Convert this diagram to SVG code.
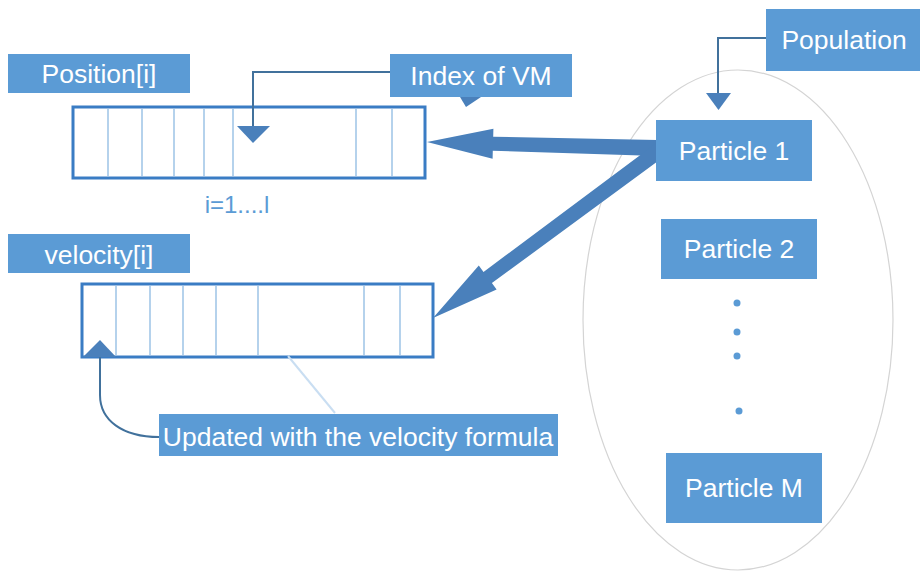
<svg xmlns="http://www.w3.org/2000/svg" width="920" height="571" viewBox="0 0 920 571">
<style>
.box{fill:#5b9bd5;}
.lbl{font-family:"Liberation Sans",Arial,sans-serif;font-size:26.5px;fill:#ffffff;text-anchor:middle;}
.arr{fill:none;stroke:#3a7cc4;stroke-width:3;}
.div{stroke:#9dc3e6;stroke-width:1.5;}
.conn{fill:none;stroke:#41719c;stroke-width:2;}
.head{fill:#4a80bb;}
.big{fill:#4a80bb;}
</style>
<rect width="920" height="571" fill="#ffffff"/>
<ellipse cx="738" cy="320" rx="155" ry="250" fill="none" stroke="#d4d4d4" stroke-width="1.2"/>

<g id="position-array">
<rect class="arr" x="73" y="107" width="352" height="71" fill="#ffffff"/>
<line class="div" x1="108" y1="109" x2="108" y2="176"/>
<line class="div" x1="142" y1="109" x2="142" y2="176"/>
<line class="div" x1="174" y1="109" x2="174" y2="176"/>
<line class="div" x1="204" y1="109" x2="204" y2="176"/>
<line class="div" x1="233" y1="109" x2="233" y2="176"/>
<line class="div" x1="356" y1="109" x2="356" y2="176"/>
<line class="div" x1="392" y1="109" x2="392" y2="176"/>
</g>
<g id="velocity-array">
<rect class="arr" x="82" y="284" width="351" height="73" fill="#ffffff"/>
<line class="div" x1="116" y1="286" x2="116" y2="355"/>
<line class="div" x1="150" y1="286" x2="150" y2="355"/>
<line class="div" x1="183" y1="286" x2="183" y2="355"/>
<line class="div" x1="216" y1="286" x2="216" y2="355"/>
<line class="div" x1="258" y1="286" x2="258" y2="355"/>
<line class="div" x1="364" y1="286" x2="364" y2="355"/>
<line class="div" x1="400" y1="286" x2="400" y2="355"/>
</g>

<g id="connectors">
<polyline class="conn" points="390,72 253,72 253,127"/>
<polygon class="head" points="237,126 270,126 253,143"/>
<polyline class="conn" points="766,38 718,38 718,94"/>
<polygon class="head" points="706,93 731,93 718.5,110"/>
<path class="conn" d="M159,437 C122,437 100,420 100,395 L100,356"/>
<polygon class="head" points="83,357 116,357 100,340"/>
<line x1="288" y1="356" x2="335" y2="413" stroke="#c9def2" stroke-width="2"/>
<polygon class="head" points="460,97 481,97 466,107"/>
<polygon class="big" points="427,142 493.4,128.7 493.2,136.7 657.2,140 656.8,156 492.8,150.7 492.6,158.7"/>
<polygon class="big" points="433,318 478.8,265.4 483.5,271.9 655.8,143.4 664.2,156.6 491.9,283.1 496.6,289.6"/>
</g>

<g id="position-label">
<rect class="box" x="8" y="54" width="182" height="39"/>
<text class="lbl" x="99" y="83">Position[i]</text>
</g>
<g id="index-of-vm">
<rect class="box" x="390" y="54" width="182" height="43"/>
<text class="lbl" x="481" y="85">Index of VM</text>
</g>
<g id="range-label">
<text x="237" y="213" font-family="Liberation Sans, Arial, sans-serif" font-size="24" fill="#5b9bd5" text-anchor="middle">i=1....l</text>
</g>
<g id="population">
<rect class="box" x="766" y="9" width="160" height="62"/>
<text class="lbl" x="844" y="49">Population</text>
</g>
<g id="particle-1">
<rect class="box" x="656" y="120" width="156" height="61"/>
<text class="lbl" x="734" y="160">Particle 1</text>
</g>
<g id="particle-2">
<rect class="box" x="661" y="219" width="156" height="60"/>
<text class="lbl" x="739" y="258">Particle 2</text>
</g>
<g id="ellipsis">
<circle cx="737" cy="303" r="3.5" fill="#5b9bd5"/>
<circle cx="737" cy="332" r="3.5" fill="#5b9bd5"/>
<circle cx="737" cy="356" r="3.5" fill="#5b9bd5"/>
<circle cx="739" cy="411" r="3.5" fill="#5b9bd5"/>
</g>
<g id="particle-m">
<rect class="box" x="666" y="453" width="156" height="70"/>
<text class="lbl" x="744" y="497">Particle M</text>
</g>
<g id="velocity-label">
<rect class="box" x="8" y="234" width="182" height="39"/>
<text class="lbl" x="99" y="264">velocity[i]</text>
</g>
<g id="updated-label">
<rect class="box" x="159" y="414" width="399" height="42"/>
<text class="lbl" x="358" y="446" font-size="26.5">Updated with the velocity formula</text>
</g>
</svg>
